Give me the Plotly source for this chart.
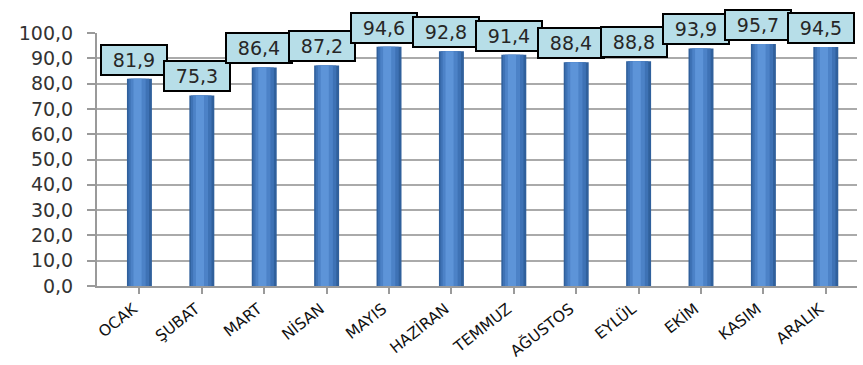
import plotly.graph_objects as go

months = ["OCAK", "ŞUBAT", "MART", "NİSAN", "MAYIS", "HAZİRAN",
          "TEMMUZ", "AĞUSTOS", "EYLÜL", "EKİM", "KASIM", "ARALIK"]
values = [81.9, 75.3, 86.4, 87.2, 94.6, 92.8, 91.4, 88.4, 88.8, 93.9, 95.7, 94.5]
labels = [f"{v:.1f}".replace(".", ",") for v in values]
ytick_vals = [0, 10, 20, 30, 40, 50, 60, 70, 80, 90, 100]
ytick_text = [f"{v:.1f}".replace(".", ",") for v in ytick_vals]

FONT = "DejaVu Sans"
fig = go.Figure()

# cylinder-like shading: overlay bars of decreasing width
layers = [(0.40, 0, "#30609c"), (0.33, -0.01, "#3e72b5"), (0.24, -0.02, "#4c82c7"),
          (0.13, -0.03, "#5d94d8")]
for w, off, col in layers:
    fig.add_trace(go.Bar(x=months, y=values, width=w, offset=-w / 2 + off,
                         marker=dict(color=col, line=dict(width=0)),
                         hoverinfo="skip", showlegend=False))

for m, v, t in zip(months, values, labels):
    fig.add_annotation(x=m, y=v, text=t, showarrow=False, xanchor="center",
                       yanchor="bottom", yshift=3, xshift=-5,
                       font=dict(family=FONT, size=19, color="#262626"),
                       bgcolor="#b7dee8", bordercolor="#000000", borderwidth=2,
                       borderpad=3, width=58)

fig.update_layout(
    width=863, height=365,
    margin=dict(l=97, r=6, t=33, b=79),
    paper_bgcolor="white", plot_bgcolor="white",
    barmode="overlay", bargap=0.6,
    font=dict(family=FONT, color="#262626"),
    xaxis=dict(type="category", categoryorder="array", categoryarray=months,
               range=[-0.68, 11.5], tickangle=-38,
               tickfont=dict(family=FONT, size=15.5, color="#111111"),
               ticklabelstandoff=0, ticklabelshift=-6,
               showline=True, linecolor="#9a9a9a", linewidth=2,
               ticks="outside", ticklen=6, tickcolor="#9a9a9a", tickwidth=2,
               showgrid=False, automargin=False),
    yaxis=dict(range=[0, 100], tickvals=ytick_vals, ticktext=ytick_text,
               tickfont=dict(family=FONT, size=19, color="#333333"),
               ticklabelstandoff=10,
               showline=True, linecolor="#9a9a9a", linewidth=2,
               ticks="outside", ticklen=8, tickcolor="#9a9a9a", tickwidth=2,
               showgrid=True, gridcolor="#aaaaaa", gridwidth=2,
               zeroline=False, automargin=False),
)

fig.write_html("out.html")
